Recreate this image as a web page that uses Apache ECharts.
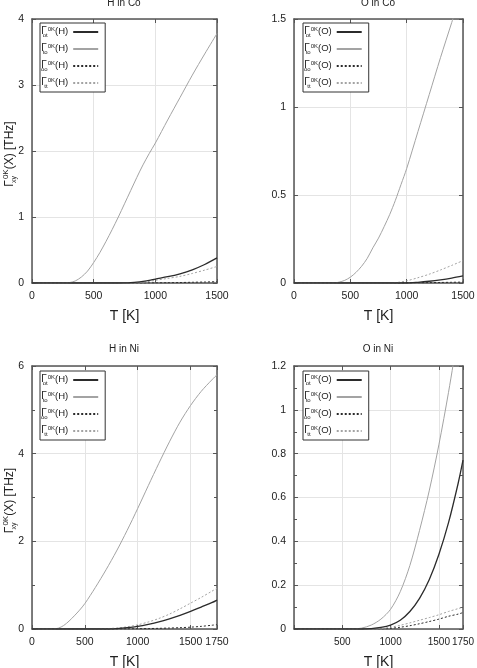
<!DOCTYPE html>
<html><head><meta charset="utf-8">
<script src="https://cdn.jsdelivr.net/npm/echarts@6/dist/echarts.min.js"></script>
<style>html,body{margin:0;padding:0;background:#fff}#c{width:477px;height:668px}</style>
</head><body><div id="c"></div>
<script>
// ---------- data ----------
const panelTitles = ['H in Co', 'O in Co', 'H in Ni', 'O in Ni'];
const xTickLabels = [[0,500,1000,1500],[0,500,1000,1500],[0,500,1000,1500,1750],[500,1000,1500,1750]];

// H in Co
const T_HCo  = [0,100,200,250,300,350,400,450,500,550,600,650,700,750,800,850,900,950,1000,1100,1200,1300,1400,1500];
const to_HCo = [0,0,0,0,0.005,0.03,0.09,0.18,0.31,0.46,0.63,0.81,1.0,1.2,1.4,1.6,1.79,1.96,2.12,2.47,2.81,3.15,3.47,3.78];
const ot_HCo = [0,0,0,0,0,0,0,0,0,0,0,0,0,0.002,0.006,0.013,0.025,0.04,0.06,0.095,0.14,0.2,0.28,0.38];
const tt_HCo = [0,0,0,0,0,0,0,0,0,0,0,0,0,0,0.003,0.007,0.013,0.024,0.04,0.07,0.1,0.145,0.195,0.25];
const oo_HCo = [0,0,0,0,0,0,0,0,0,0,0,0,0,0,0,0,0,0.001,0.002,0.004,0.007,0.011,0.015,0.02];

// O in Co
const T_OCo  = [0,100,200,300,350,400,450,500,550,600,650,700,750,800,850,900,950,1000,1100,1200,1300,1400,1500];
const to_OCo = [0,0,0,0,0,0.005,0.015,0.033,0.06,0.095,0.14,0.2,0.255,0.32,0.39,0.47,0.56,0.65,0.86,1.07,1.28,1.48,1.68];
const ot_OCo = [0,0,0,0,0,0,0,0,0,0,0,0,0,0,0,0,0,0,0.004,0.01,0.018,0.028,0.04];
const tt_OCo = [0,0,0,0,0,0,0,0,0,0,0,0,0,0,0,0.002,0.006,0.012,0.03,0.05,0.074,0.1,0.127];
const oo_OCo = [0,0,0,0,0,0,0,0,0,0,0,0,0,0,0,0,0,0.001,0.0015,0.002,0.003,0.004,0.005];

// H in Ni
const T_HNi  = [0,100,200,250,300,350,400,450,500,600,700,800,900,1000,1100,1200,1300,1400,1500,1600,1700,1750];
const to_HNi = [0,0,0,0.02,0.08,0.18,0.3,0.43,0.58,0.95,1.35,1.78,2.25,2.75,3.27,3.78,4.27,4.72,5.1,5.42,5.68,5.8];
const ot_HNi = [0,0,0,0,0,0,0,0,0,0,0,0.01,0.03,0.06,0.105,0.16,0.23,0.31,0.4,0.5,0.6,0.66];
const tt_HNi = [0,0,0,0,0,0,0,0,0,0.002,0.008,0.022,0.05,0.095,0.16,0.24,0.34,0.46,0.59,0.72,0.86,0.93];
const oo_HNi = [0,0,0,0,0,0,0,0,0,0,0,0.001,0.003,0.006,0.01,0.015,0.022,0.03,0.042,0.06,0.085,0.1];

// O in Ni
const T_ONi  = [0,200,400,500,600,700,800,900,1000,1100,1200,1300,1400,1500,1600,1700,1750];
const to_ONi = [0,0,0,0,0,0.004,0.018,0.045,0.09,0.17,0.29,0.45,0.63,0.84,1.08,1.35,1.5];
const ot_ONi = [0,0,0,0,0,0,0.002,0.007,0.018,0.04,0.08,0.14,0.225,0.34,0.485,0.665,0.77];
const tt_ONi = [0,0,0,0,0,0,0,0.002,0.008,0.017,0.028,0.04,0.052,0.065,0.08,0.093,0.1];
const oo_ONi = [0,0,0,0,0,0,0,0,0.003,0.008,0.015,0.024,0.034,0.045,0.058,0.068,0.075];

// ---------- layout / styling ----------
const panels = [
  {key:'HCo', atom:'H', T:T_HCo, d:{ot:ot_HCo,to:to_HCo,oo:oo_HCo,tt:tt_HCo}, xMax:1500, yMax:4,   yInt:1,   minor:false, grid:{left:32, top:19, width:185, height:264}, leg:[40,23],  yName:true},
  {key:'OCo', atom:'O', T:T_OCo, d:{ot:ot_OCo,to:to_OCo,oo:oo_OCo,tt:tt_OCo}, xMax:1500, yMax:1.5, yInt:0.5, minor:false, grid:{left:294,top:19, width:169, height:264}, leg:[303,23], yName:false},
  {key:'HNi', atom:'H', T:T_HNi, d:{ot:ot_HNi,to:to_HNi,oo:oo_HNi,tt:tt_HNi}, xMax:1750, yMax:6,   yInt:2,   minor:true,  grid:{left:32, top:366,width:185, height:263}, leg:[40,371], yName:true},
  {key:'ONi', atom:'O', T:T_ONi, d:{ot:ot_ONi,to:to_ONi,oo:oo_ONi,tt:tt_ONi}, xMax:1750, yMax:1.2, yInt:0.2, minor:true,  grid:{left:294,top:366,width:169, height:263}, leg:[303,371], yName:false}
];
const titlePos = [[124,3],[378,3],[124,349],[378,349]];
const kinds = ['ot','to','oo','tt'];
const lineStyles = {
  ot:{color:'#2b2b2b', width:1.3, type:'solid'},
  to:{color:'#a3a3a3', width:1,   type:'solid'},
  oo:{color:'#2b2b2b', width:1,   type:[2,2]},
  tt:{color:'#a3a3a3', width:1,   type:[2,2]}
};
const FONT = 'Liberation Sans, Arial, sans-serif';
const axisColor = '#555';
const tickFont = 10.5;

const grid = [], xAxis = [], yAxis = [], series = [], legend = [], title = [];
panels.forEach((p, i) => {
  grid.push(Object.assign({outerBoundsMode:'none', containLabel:false}, p.grid));
  title.push({text: panelTitles[i], left: titlePos[i][0], top: titlePos[i][1], textAlign:'center', textVerticalAlign:'middle', padding:0,
    textStyle:{fontSize:10, fontWeight:'normal', color:'#222', fontFamily:FONT}});
  const labs = xTickLabels[i];
  const baseX = {type:'value', gridIndex:i, min:0, max:p.xMax, interval:500,
    axisLine:{show:true, onZero:false, lineStyle:{color:axisColor, width:1.5}},
    axisTick:{show:true, inside:true, length:4, lineStyle:{color:axisColor}},
    splitLine:{show:false}};
  xAxis.push(Object.assign({}, baseX, {position:'bottom',
    name:'T [K]', nameLocation:'middle', nameGap:26, nameMoveOverlap:false,
    nameTextStyle:{fontSize:14, color:'#222', fontFamily:FONT},
    axisLabel:{show:true, margin:8, fontSize: i === 3 ? 10 : tickFont, color:'#222', fontFamily:FONT, hideOverlap:false, showMinLabel:true, showMaxLabel:true,
      formatter: v => labs.indexOf(v) >= 0 ? String(v) : ''},
    splitLine:{show:true, lineStyle:{color:'#e4e4e4', width:1}}}));
  const baseY = {type:'value', gridIndex:i, min:0, max:p.yMax, interval:p.yInt,
    axisLine:{show:true, onZero:false, lineStyle:{color:axisColor, width:1.5}},
    axisTick:{show:true, inside:true, length:4, lineStyle:{color:axisColor}},
    minorTick:{show:p.minor, splitNumber:2, length:3, lineStyle:{color:axisColor}},
    splitLine:{show:false}};
  yAxis.push(Object.assign({}, baseY, {position:'left',
    name: p.yName ? '{G|Γ}{s|xy}{p|0K}{n|(X) [THz]}' : '', nameLocation:'middle', nameGap:14, nameMoveOverlap:false,
    nameTextStyle:{color:'#222', fontFamily:FONT, padding:[0,0,0,-6], rich:{
      G:{fontSize:12, lineHeight:16, verticalAlign:'middle', fontFamily:FONT, color:'#222'},
      s:{fontSize:7, lineHeight:16, verticalAlign:'bottom', width:1, fontFamily:FONT, color:'#222'},
      p:{fontSize:8, lineHeight:16, verticalAlign:'top', fontFamily:FONT, color:'#222'},
      n:{fontSize:12, lineHeight:16, verticalAlign:'middle', fontFamily:FONT, color:'#222'}}},
    axisLabel:{show:true, margin:8, fontSize:tickFont, color:'#222', fontFamily:FONT, hideOverlap:false},
    splitLine:{show:true, lineStyle:{color:'#e4e4e4', width:1}}}));
  kinds.forEach(k => {
    const vals = p.d[k];
    series.push({name: k + '_' + p.key, type:'line', xAxisIndex:i, yAxisIndex:i,
      data: p.T.map((t, j) => [t, vals[j]]), symbol:'none', showSymbol:false,
      smooth:0.3, clip:true, lineStyle: lineStyles[k], color: lineStyles[k].color,
      emphasis:{disabled:true}, silent:true, animation:false, z: k === 'ot' ? 4 : 3});
  });
  legend.push({data: kinds.map(k => k + '_' + p.key), orient:'vertical',
    left:p.leg[0], top:p.leg[1], align:'right', itemWidth:25, itemHeight:12, itemGap:5,
    padding:[3,6,3,1], borderColor:'#333', borderWidth:1, borderRadius:0, backgroundColor:'#fff',
    selectedMode:false, itemStyle:{opacity:0},
    formatter: name => { const k = name.split('_')[0]; return '{G|Γ}{s|' + k + '}{p|0K}{n|(' + p.atom + ')}'; },
    textStyle:{color:'#222', fontFamily:FONT, rich:{
      G:{fontSize:10, lineHeight:12, verticalAlign:'top', fontFamily:FONT, color:'#222'},
      s:{fontSize:6, lineHeight:12, verticalAlign:'bottom', width:1, fontFamily:FONT, color:'#222'},
      p:{fontSize:6, lineHeight:12, verticalAlign:'top', fontFamily:FONT, color:'#222'},
      n:{fontSize:9.5, lineHeight:12, verticalAlign:'top', fontFamily:FONT, color:'#222'}}}});
});
// mirrored top / right axes (ticks only, gnuplot-style frame)
panels.forEach((p, i) => {
  xAxis.push({type:'value', gridIndex:i, position:'top', min:0, max:p.xMax, interval:500,
    axisLine:{show:true, onZero:false, lineStyle:{color:axisColor, width:1.5}},
    axisTick:{show:true, inside:true, length:4, lineStyle:{color:axisColor}},
    axisLabel:{show:false}, splitLine:{show:false}});
  yAxis.push({type:'value', gridIndex:i, position:'right', min:0, max:p.yMax, interval:p.yInt,
    axisLine:{show:true, onZero:false, lineStyle:{color:axisColor, width:1.5}},
    axisTick:{show:true, inside:true, length:4, lineStyle:{color:axisColor}},
    minorTick:{show:p.minor, splitNumber:2, length:3, lineStyle:{color:axisColor}},
    axisLabel:{show:false}, splitLine:{show:false}});
});

const chart = echarts.init(document.getElementById('c'), null, {renderer:'canvas'});
chart.setOption({animation:false, backgroundColor:'#fff', title, grid, xAxis, yAxis, series, legend, tooltip:{show:false}});
</script></body></html>
